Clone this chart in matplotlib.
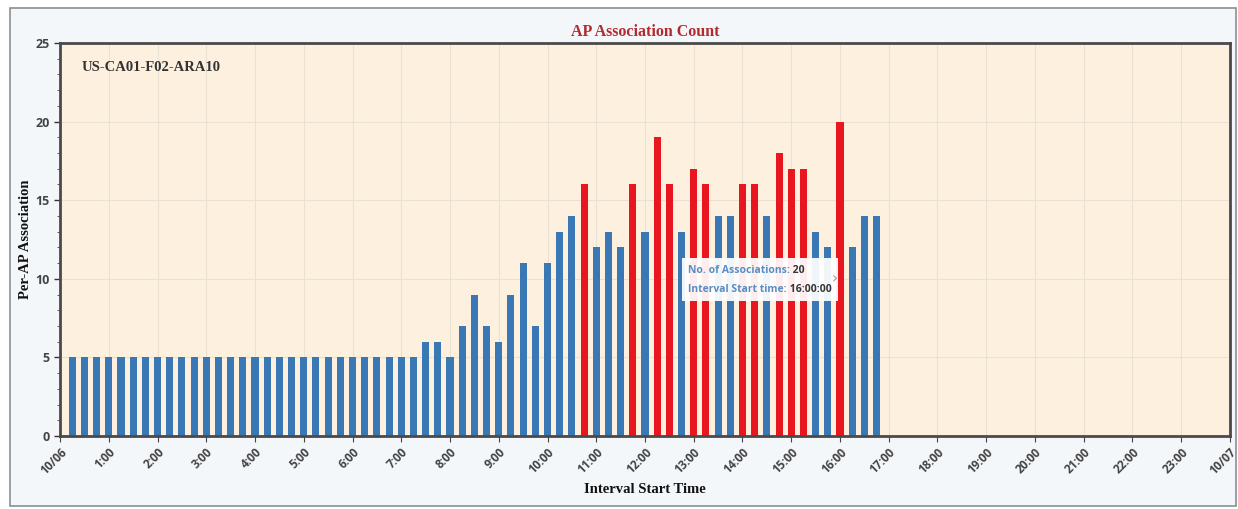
import matplotlib.pyplot as plt
from matplotlib.patches import Rectangle
from matplotlib.ticker import MultipleLocator

# 15-minute intervals on 10/06, starting at 00:15
start_times = ["00:15", "00:30", "00:45", "01:00", "01:15", "01:30", "01:45", "02:00",
               "02:15", "02:30", "02:45", "03:00", "03:15", "03:30", "03:45", "04:00",
               "04:15", "04:30", "04:45", "05:00", "05:15", "05:30", "05:45", "06:00",
               "06:15", "06:30", "06:45", "07:00", "07:15", "07:30", "07:45", "08:00",
               "08:15", "08:30", "08:45", "09:00", "09:15", "09:30", "09:45", "10:00",
               "10:15", "10:30", "10:45", "11:00", "11:15", "11:30", "11:45", "12:00",
               "12:15", "12:30", "12:45", "13:00", "13:15", "13:30", "13:45", "14:00",
               "14:15", "14:30", "14:45", "15:00", "15:15", "15:30", "15:45", "16:00",
               "16:15", "16:30", "16:45"]
associations = [5, 5, 5, 5, 5, 5, 5, 5,
                5, 5, 5, 5, 5, 5, 5, 5,
                5, 5, 5, 5, 5, 5, 5, 5,
                5, 5, 5, 5, 5, 6, 6, 5,
                7, 9, 7, 6, 9, 11, 7, 11,
                13, 14, 16, 12, 13, 12, 16, 13,
                19, 16, 13, 17, 16, 14, 14, 16,
                16, 14, 18, 17, 17, 13, 12, 20,
                12, 14, 14]
threshold = 15
tick_labels = ["10/06"] + [f"{h}:00" for h in range(1, 24)] + ["10/07"]

hours = [int(t[:2]) + int(t[3:]) / 60 for t in start_times]
colors = ["#e8161e" if v > threshold else "#3a78b5" for v in associations]

fig = plt.figure(figsize=(12.38, 5.09), dpi=100)
fig.patch.set_facecolor("white")
fig.patches.append(Rectangle((0.008, 0.006), 0.99, 0.978, transform=fig.transFigure,
                             facecolor="#f4f7fa", edgecolor="#8a8f94", lw=1.2, zorder=-1))

ax = fig.add_axes([0.0485, 0.1434, 0.945, 0.7721])
ax.set_facecolor("#fdf0df")
ax.bar(hours, associations, width=0.145, color=colors, zorder=2)

ax.set_xlim(0, 24)
ax.set_ylim(0, 25)
ax.set_xticks(range(25))
ax.set_xticklabels(tick_labels, rotation=45, ha="right", rotation_mode="anchor",
                   fontsize=8.5, fontweight="bold", color="#555555", family="Open Sans")
ax.set_yticks(range(0, 26, 5))
ax.yaxis.set_minor_locator(MultipleLocator(1))
ax.tick_params(axis="y", labelsize=9, colors="#333333", width=1, length=4)
ax.tick_params(axis="y", which="minor", length=2.5, colors="#444444")
ax.tick_params(axis="x", length=4, colors="#444444", pad=3)
for lab in ax.get_yticklabels():
    lab.set_fontweight("bold")
    lab.set_family("Open Sans")
    lab.set_color("#444444")
ax.grid(True, color="#e9e1d4", lw=0.8, zorder=0)
for sp in ax.spines.values():
    sp.set_color("#4a4a4a")
    sp.set_linewidth(2)

ax.set_title("AP Association Count", family="Liberation Serif", fontweight="bold",
             fontsize=11.5, color="#b22a2e", pad=5)
ax.set_ylabel("Per-AP Association", family="Liberation Serif", fontweight="bold",
              fontsize=10.5, color="#111111", labelpad=2)
ax.set_xlabel("Interval Start Time", family="Liberation Serif", fontweight="bold",
              fontsize=10.5, color="#111111", labelpad=4)
ax.text(0.018, 0.955, "US-CA01-F02-ARA10", transform=ax.transAxes, va="top", ha="left",
        family="Liberation Serif", fontweight="bold", fontsize=10.5, color="#333333")

# hover tooltip for the peak bar
peak = associations.index(max(associations))
ax.add_patch(Rectangle((12.75, 8.6), 3.2, 2.75, facecolor="white", edgecolor="none",
                       alpha=0.93, zorder=4))
tip = dict(fontsize=7.5, fontweight="bold", family="Open Sans", va="center", zorder=5)
t1 = ax.text(12.88, 10.5, "No. of Associations:", color="#5a8cc2", **tip)
ax.annotate(f" {associations[peak]}", xy=(1, 0.5), xycoords=t1, color="#333333",
            ha="left", **tip)
t2 = ax.text(12.88, 9.3, "Interval Start time:", color="#5a8cc2", **tip)
ax.annotate(f" {start_times[peak]}:00", xy=(1, 0.5), xycoords=t2, color="#333333",
            ha="left", **tip)
ax.text(15.82, 10.0, "\u203a", color="#999999", fontsize=11, va="center", zorder=5)

fig.savefig("out.png", dpi=100)
